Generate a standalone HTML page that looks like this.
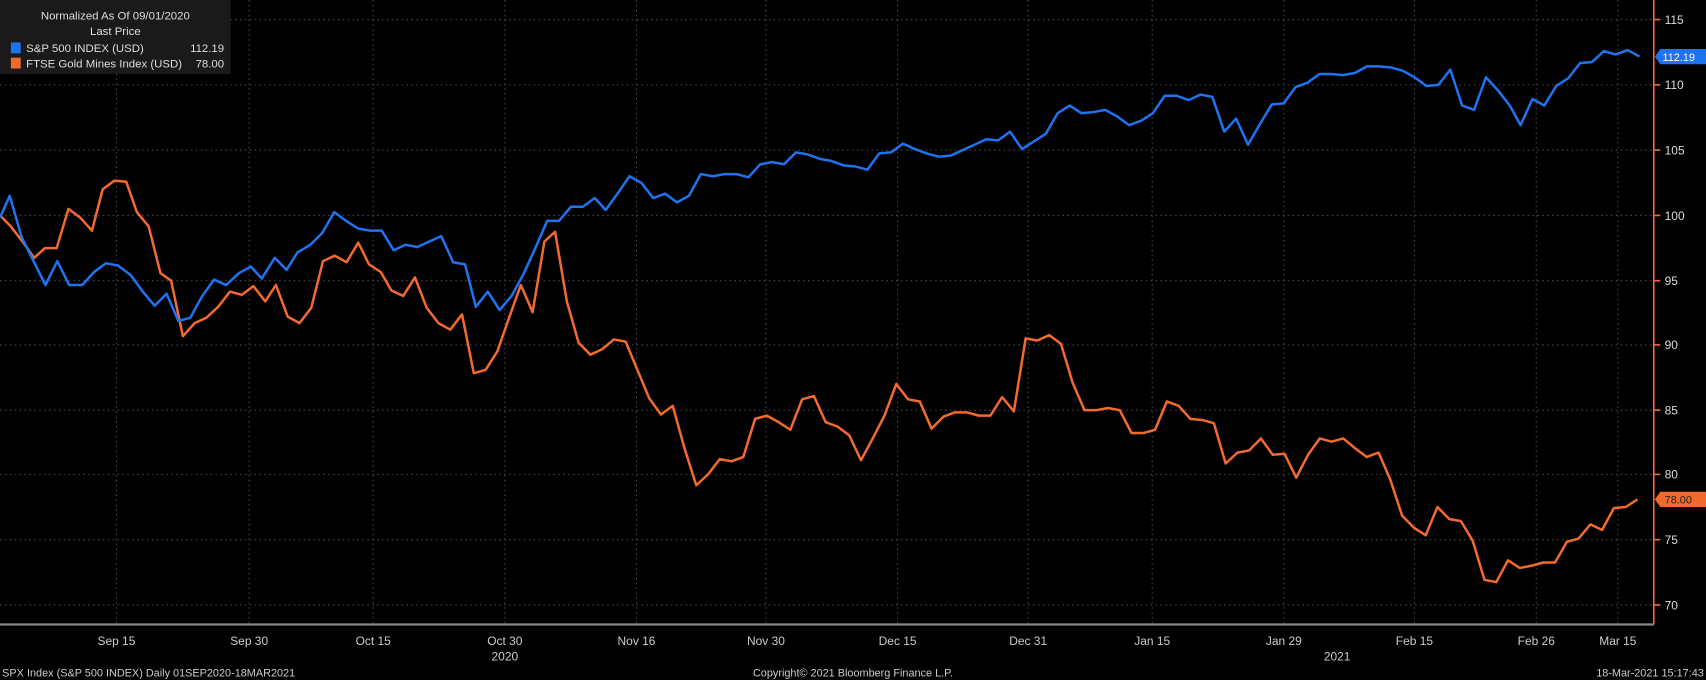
<!DOCTYPE html>
<html><head><meta charset="utf-8"><style>
html,body{margin:0;padding:0;background:#000;overflow:hidden}
svg{display:block}
text{font-family:"Liberation Sans",sans-serif}
</style></head><body>
<svg width="1706" height="680" viewBox="0 0 1568 625" preserveAspectRatio="none">
<rect width="1568" height="625" fill="#000"/>
<g stroke="#444" stroke-width="1" stroke-dasharray="1.5,3">
<line x1="0" x2="1520" y1="18" y2="18"/><line x1="0" x2="1520" y1="78" y2="78"/>
<line x1="0" x2="1520" y1="138" y2="138"/><line x1="0" x2="1520" y1="198" y2="198"/>
<line x1="0" x2="1520" y1="258" y2="258"/><line x1="0" x2="1520" y1="317" y2="317"/>
<line x1="0" x2="1520" y1="377" y2="377"/><line x1="0" x2="1520" y1="436" y2="436"/>
<line x1="0" x2="1520" y1="496" y2="496"/><line x1="0" x2="1520" y1="556" y2="556"/>
<line x1="107" x2="107" y1="0" y2="574"/><line x1="229" x2="229" y1="0" y2="574"/>
<line x1="343" x2="343" y1="0" y2="574"/><line x1="464" x2="464" y1="0" y2="574"/>
<line x1="585" x2="585" y1="0" y2="574"/><line x1="704" x2="704" y1="0" y2="574"/>
<line x1="825" x2="825" y1="0" y2="574"/><line x1="945" x2="945" y1="0" y2="574"/>
<line x1="1059" x2="1059" y1="0" y2="574"/><line x1="1180" x2="1180" y1="0" y2="574"/>
<line x1="1300" x2="1300" y1="0" y2="574"/><line x1="1412" x2="1412" y1="0" y2="574"/>
<line x1="1487" x2="1487" y1="0" y2="574"/>
</g>
<line x1="0" x2="1520" y1="574" y2="574" stroke="#888" stroke-width="2"/>
<line x1="1520" x2="1520" y1="0" y2="574" stroke="#f26a2e" stroke-width="1.5"/>
<g fill="#ddd" font-size="11">
<text x="1530" y="22">115</text><text x="1530" y="82">110</text><text x="1530" y="142">105</text>
<text x="1530" y="202">100</text><text x="1530" y="262">95</text><text x="1530" y="321">90</text>
<text x="1530" y="381">85</text><text x="1530" y="440">80</text><text x="1530" y="500">75</text>
<text x="1530" y="560">70</text>
</g>
<g stroke="#f26a2e" stroke-width="1.5">
<line x1="1520" x2="1526" y1="18" y2="18"/><line x1="1520" x2="1526" y1="78" y2="78"/>
<line x1="1520" x2="1526" y1="138" y2="138"/><line x1="1520" x2="1526" y1="198" y2="198"/>
<line x1="1520" x2="1526" y1="258" y2="258"/><line x1="1520" x2="1526" y1="317" y2="317"/>
<line x1="1520" x2="1526" y1="377" y2="377"/><line x1="1520" x2="1526" y1="436" y2="436"/>
<line x1="1520" x2="1526" y1="496" y2="496"/><line x1="1520" x2="1526" y1="556" y2="556"/>
</g>
<g fill="#ccc" font-size="11" text-anchor="middle">
<text x="107" y="593">Sep 15</text><text x="229" y="593">Sep 30</text><text x="343" y="593">Oct 15</text>
<text x="464" y="593">Oct 30</text><text x="585" y="593">Nov 16</text><text x="704" y="593">Nov 30</text>
<text x="825" y="593">Dec 15</text><text x="945" y="593">Dec 31</text><text x="1059" y="593">Jan 15</text>
<text x="1180" y="593">Jan 29</text><text x="1300" y="593">Feb 15</text><text x="1412" y="593">Feb 26</text>
<text x="1487" y="593">Mar 15</text>
<text x="464" y="607">2020</text><text x="1229" y="607">2021</text>
</g>
<g fill="#ccc" font-size="10">
<text x="2" y="622">SPX Index (S&amp;P 500 INDEX)  Daily 01SEP2020-18MAR2021</text>
<text x="784" y="622" text-anchor="middle">Copyright© 2021 Bloomberg Finance L.P.</text>
<text x="1566" y="622" text-anchor="end">18-Mar-2021 15:17:43</text>
</g>
<g transform="scale(0.983,1)">
<polyline fill="none" stroke="#f26a2e" stroke-width="2.5" stroke-linejoin="round" points="0,198 10,208 21,222 32,237 42,228 53,228 64,192 75,200 86,212 96,174 107,166 118,167 128,195 139,208 150,251 160,258 171,309 182,297 193,292 204,282 215,268 226,271 237,263 248,277 258,262 269,291 280,297 291,283 302,240 313,235 324,241 335,223 345,243 356,250 366,267 377,272 388,255 399,283 410,297 421,303 432,289 443,343 454,340 465,323 476,292 487,262 498,287 509,222 519,213 530,277 541,315 552,326 563,321 574,312 585,314 596,340 607,366 618,381 629,373 640,412 651,446 662,436 673,422 684,424 695,420 706,385 717,382 728,388 739,395 750,367 761,364 772,388 783,392 794,400 805,423 816,403 827,382 838,353 849,367 860,369 871,394 882,383 893,379 904,379 915,382 926,382 937,365 948,378 959,311 970,313 981,308 992,316 1003,352 1014,377 1025,377 1036,375 1047,377 1058,398 1069,398 1080,395 1091,369 1102,373 1113,385 1124,386 1135,389 1146,426 1157,416 1168,414 1179,403 1190,418 1201,417 1212,439 1223,418 1234,403 1245,406 1256,403 1267,412 1278,420 1289,416 1300,441 1311,474 1322,485 1333,492 1344,466 1355,477 1366,479 1377,497 1388,533 1399,535 1410,515 1421,522 1432,520 1443,517 1454,517 1465,498 1476,495 1487,482 1498,487 1509,467 1520,466 1531,459" vector-effect="non-scaling-stroke"/>
</g>
<g transform="scale(0.994,1)">
<polyline fill="none" stroke="#1e74f0" stroke-width="2.5" stroke-linejoin="round" vector-effect="non-scaling-stroke" points="0,200 9,180 20,218 32,242 42,262 53,240 64,262 76,262 87,250 98,242 109,244 121,253 132,268 143,281 154,270 165,295 176,292 187,272 198,257 209,262 221,251 232,245 242,256 254,237 265,248 275,232 287,225 298,214 309,195 320,203 331,210 342,212 353,212 364,230 375,225 386,227 397,222 408,217 419,241 430,243 440,282 451,268 462,285 473,272 484,252 495,228 506,203 517,203 528,190 539,190 550,182 560,193 571,178 582,162 593,168 604,182 615,178 626,186 637,180 648,160 659,162 670,160 681,160 692,163 703,151 714,149 725,151 736,140 747,142 758,146 769,148 780,152 791,153 802,156 813,141 824,140 835,132 846,137 857,141 868,144 879,143 890,138 901,133 912,128 923,129 934,121 945,137 956,130 967,123 978,104 989,97 1000,104 1011,103 1022,101 1033,107 1044,115 1055,111 1066,104 1077,88 1088,88 1099,92 1110,87 1121,89 1132,121 1143,109 1154,133 1165,114 1176,96 1187,95 1198,80 1209,76 1220,68 1231,68 1242,69 1253,67 1264,61 1275,61 1286,62 1297,65 1308,71 1319,79 1330,78 1341,64 1352,97 1363,101 1374,71 1385,83 1396,97 1406,115 1417,91 1428,97 1439,79 1450,72 1461,58 1472,57 1483,47 1494,50 1505,46 1516,52"/>
</g>
<path d="M1521,52 L1526,45 L1568,45 L1568,59 L1526,59 Z" fill="#1e74f0"/>
<text x="1528" y="56" font-size="10" fill="#fff">112.19</text>
<path d="M1521,459 L1526,452 L1568,452 L1568,466 L1526,466 Z" fill="#f26a2e"/>
<text x="1530" y="463" font-size="10" fill="#222">78.00</text>
<rect x="0" y="0" width="212" height="68" fill="#1a1a1a"/>
<g fill="#ddd" font-size="10.5">
<text x="106" y="18" text-anchor="middle">Normalized As Of 09/01/2020</text>
<text x="106" y="32" text-anchor="middle">Last Price</text>
<rect x="10" y="39" width="9" height="10" fill="#1e74f0"/>
<text x="24" y="48">S&amp;P 500 INDEX (USD)</text><text x="206" y="48" text-anchor="end">112.19</text>
<rect x="10" y="53" width="9" height="10" fill="#f26a2e"/>
<text x="24" y="62">FTSE Gold Mines Index (USD)</text><text x="206" y="62" text-anchor="end">78.00</text>
</g>
</svg>
</body></html>
